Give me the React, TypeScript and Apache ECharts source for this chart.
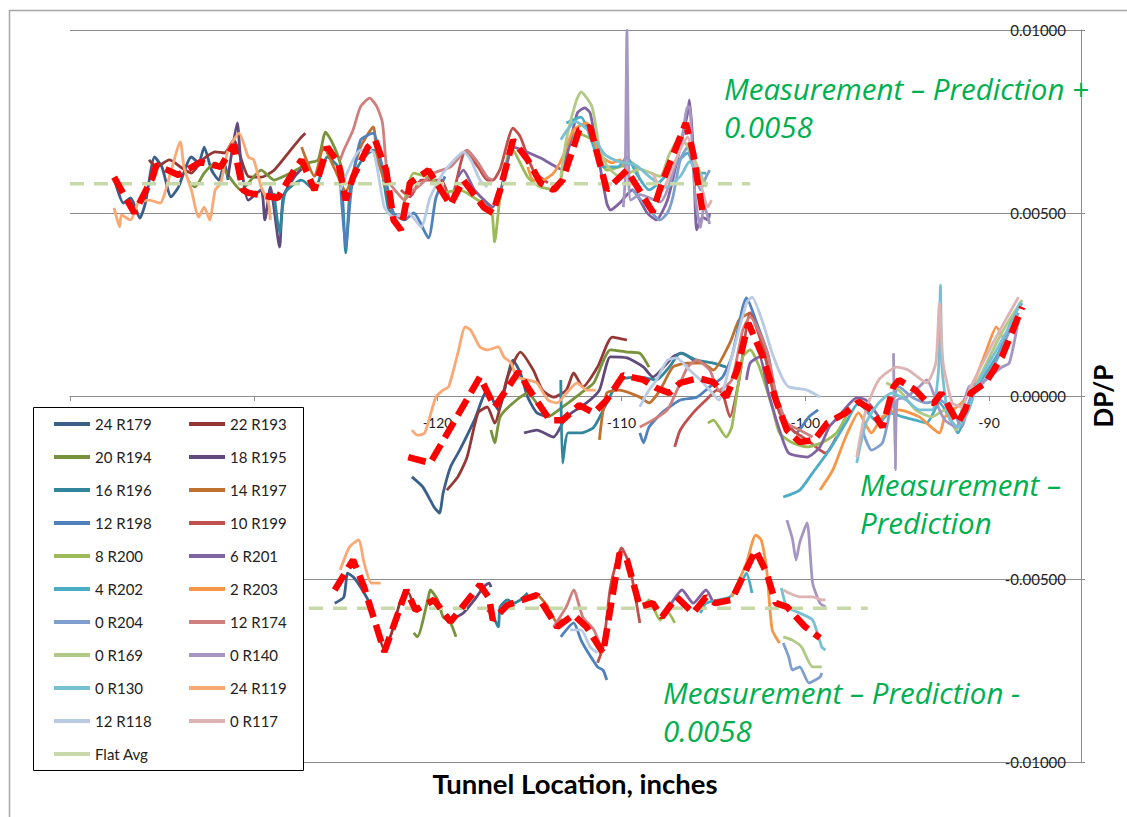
import React, { useEffect, useRef } from "react";
import * as echarts from "echarts";

// Values are DP/P in units of 1e-3, x in tunnel inches.
const SCALE = 0.001;
const FONT = 'Lato, "Open Sans", sans-serif';
const NOTE_FONT = '"Open Sans", Lato, sans-serif';

const xTicks = { min: -140, max: -85, interval: 10 };
const yTicks = { min: -0.01, max: 0.01, interval: 0.005 };
// tick labels left of -125 sit under the legend box
const xLabelFrom = -125;

const r179Top = [[-137.6,5.95],[-137.1,5.27],[-136.7,5.41],[-136.2,4.86],[-135.9,5.27],[-135.4,6.53],[-135.0,6.26],[-134.5,5.44],[-134.1,5.71],[-133.4,6.53],[-133.0,6.37],[-132.7,6.80],[-132.3,6.17],[-131.9,5.90],[-131.6,6.37],[-131.4,5.90]];
const r179Mid = [[-121.4,-2.21],[-120.8,-2.49],[-120.2,-3.03],[-119.9,-3.20],[-119.7,-2.65],[-119.3,-1.94],[-118.8,-1.48],[-118.0,-0.66],[-117.3,0.16],[-116.7,-0.38],[-115.9,0.98],[-115.5,0.63],[-115.1,-0.03],[-114.6,-0.46],[-114.0,-0.57]];
const r179Bot = [[-125.6,-5.66],[-125.1,-5.49],[-124.9,-4.84],[-124.6,-4.94],[-124.2,-5.22],[-123.7,-5.66],[-123.5,-6.04]];

const r193Top = [[-135.7,6.45],[-135.3,6.26],[-134.6,6.45],[-133.9,6.23],[-133.4,6.09],[-132.8,6.45],[-132.1,6.67],[-131.6,6.64],[-131.1,6.99],[-130.3,6.0],[-129.6,5.98],[-128.9,6.17],[-128.0,6.72],[-127.4,7.08],[-127.2,7.18]];
const r193Mid = [[-119.5,-2.57],[-118.9,-2.21],[-118.4,-1.67],[-117.8,-0.46],[-117.3,-0.30],[-116.9,-0.74],[-116.2,0.52],[-115.5,1.20],[-114.8,0.71],[-114.3,0.16],[-113.7,-0.03],[-113.0,0.16],[-112.6,0.63],[-112.1,0.25],[-111.3,0.79],[-110.5,1.61],[-109.7,1.53]];
const r193Bot = [[-123.3,-6.31],[-122.9,-6.94],[-122.5,-6.47],[-122.0,-5.57],[-121.6,-5.38],[-121.3,-5.76]];

const r194Top = [[-133.6,5.90],[-133.2,5.71],[-132.7,6.09],[-132.1,6.37],[-131.6,6.17],[-130.7,5.63],[-129.6,6.17],[-128.9,5.90],[-128.0,6.09],[-127.0,6.37],[-126.5,6.45],[-126.1,7.21],[-125.8,6.99],[-125.4,6.53],[-125.1,5.98]];
const r194Mid = [[-117.1,-0.93],[-116.9,-1.28],[-116.6,-0.57],[-115.9,-0.19],[-115.1,0.08],[-114.0,-0.57],[-113.2,-0.30],[-112.2,0.08],[-111.5,0.36],[-110.6,1.26],[-109.7,1.20],[-109.0,1.17],[-108.5,0.79]];
const r194Bot = [[-121.3,-6.47],[-121.1,-6.58],[-120.5,-5.49],[-120.4,-5.30],[-120.0,-5.57],[-119.7,-6.04],[-119.3,-6.20],[-119.0,-6.58]];

const r195Top = [[-131.4,5.98],[-130.9,7.46],[-130.7,6.37],[-130.3,5.35],[-129.6,5.63],[-129.4,4.81],[-129.1,5.71],[-128.6,4.07],[-128.4,5.44],[-127.8,5.98],[-127.4,6.2]];
const r195Mid = [[-115.3,-1.01],[-114.6,-0.93],[-113.7,-1.12],[-113.0,-0.57],[-111.9,-0.19],[-111.2,0.16],[-110.6,1.07],[-109.7,1.04],[-108.8,0.79],[-108.3,0.52],[-107.2,1.07],[-106.7,1.17],[-105.9,0.90]];
const r195Bot = [[-119.3,-6.12],[-118.6,-5.93],[-118.0,-5.57],[-117.5,-5.22],[-117.2,-5.11],[-117.1,-5.22]];

const r196Top = [[-128.9,5.55],[-128.6,4.45],[-128.3,5.55],[-127.4,5.90],[-126.7,5.63],[-126.0,6.53],[-125.3,6.17],[-125.0,3.91],[-124.7,5.90],[-124.0,6.53],[-123.5,6.72],[-123.1,6.37],[-122.7,5.16],[-122.4,4.89]];
const r196Mid = [[-113.3,0.44],[-113.2,-1.83],[-112.9,-1.01],[-112.2,-1.01],[-111.5,-0.85],[-110.8,-0.19],[-110.1,0.44],[-109.0,0.52],[-108.1,0.44],[-107.4,0.79],[-106.8,1.17],[-105.9,0.98],[-105.0,0.90],[-104.3,0.79]];
const r196Bot = [[-117.3,-5.85],[-117.0,-6.0],[-116.7,-6.31],[-116.6,-5.76],[-116.2,-5.57],[-115.9,-5.66],[-115.5,-5.57],[-115.1,-5.38]];

const r197Top = [[-127.4,6.80],[-126.7,6.0],[-126.2,6.80],[-125.6,6.2],[-125.0,5.6],[-124.2,6.80],[-123.5,7.35],[-123.3,6.53],[-122.8,5.71],[-122.4,4.89]];
const r197Mid = [[-111.2,-1.20],[-110.8,0.08],[-110.1,0.16],[-109.0,-0.03],[-108.5,-0.19],[-107.9,0.16],[-107.2,0.79],[-106.4,0.90],[-105.6,0.90],[-105.0,0.71],[-104.1,1.45],[-103.6,2.08],[-103.0,2.27],[-102.3,1.3],[-101.7,0.0]];
const r197Bot = [[-115.1,-5.49],[-114.6,-5.44],[-114.0,-5.76],[-113.5,-6.20],[-113.2,-6.10]];

const r198Top = [[-125.3,5.90],[-125.0,4.07],[-124.7,5.63],[-124.2,6.99],[-123.5,7.18],[-123.1,6.45],[-122.7,5.63],[-122.4,5.0],[-121.8,4.81],[-121.3,5.0],[-120.5,4.32],[-120.1,5.4],[-119.6,6.0]];
const r198Mid = [[-109.0,-1.01],[-108.8,-1.28],[-108.5,-0.85],[-107.8,-0.46],[-106.8,-0.11],[-105.9,-0.03],[-105.2,0.25],[-104.5,0.52],[-104.0,1.07],[-103.4,2.43],[-103.2,2.68],[-102.7,2.08],[-102.0,1.07],[-101.6,-0.03],[-101.0,-0.74],[-100.5,-1.01],[-99.8,-0.57],[-99.3,-0.38]];
const r198Bot = [[-113.3,-6.58],[-112.6,-6.20],[-112.2,-6.67],[-111.9,-6.94],[-111.3,-7.40],[-111.0,-7.49],[-110.8,-7.76]];

const r199Top = [[-122.0,5.63],[-121.5,5.44],[-120.9,5.90],[-119.8,5.90],[-119.3,5.35],[-118.5,6.67],[-117.8,6.26],[-117.3,5.90],[-117.0,5.90],[-116.6,6.2],[-115.9,7.32],[-115.5,7.08],[-114.8,6.17],[-114.0,5.82]];
const r199Mid = [[-107.1,-1.39],[-106.8,-0.93],[-106.1,-0.46],[-105.4,-0.11],[-104.8,0.16],[-104.5,0.08],[-104.1,-0.57],[-103.6,0.44],[-103.0,2.27],[-102.3,1.34],[-101.8,0.25],[-101.4,-0.46],[-100.7,-0.93],[-99.9,-1.20],[-98.9,-1.56],[-98.3,-1.12]];
const r199Bot = [[-111.3,-7.29],[-111.0,-6.86],[-110.6,-5.22],[-110.2,-4.40],[-110.0,-4.15],[-109.6,-4.56],[-109.4,-5.03],[-109.0,-6.20]];

const r200Top = [[-122.0,4.81],[-121.3,6.09],[-120.2,5.90],[-119.7,5.55],[-118.8,5.63],[-117.8,5.35],[-117.1,5.16],[-116.9,4.21],[-116.6,5.44],[-116.0,6.80],[-115.1,5.98],[-114.4,5.71],[-113.5,5.63],[-113.1,6.45],[-112.5,7.2],[-111.6,7.0],[-111.2,6.5],[-110.8,6.17],[-110.1,6.26],[-109.4,6.37],[-109.0,5.90]];
const r200Mid = [[-105.3,-0.74],[-105.0,-0.66],[-104.3,-1.12],[-104.0,-0.85],[-103.4,1.07],[-103.0,1.26],[-102.5,0.79],[-101.8,-0.30],[-101.4,-1.01],[-100.7,-1.28],[-99.9,-1.39],[-99.1,-1.28],[-98.3,-1.01],[-97.6,-0.38]];
const r200Bot = [[-108.8,-5.76],[-108.5,-5.57],[-107.9,-6.12],[-107.5,-5.90],[-107.1,-6.20]];

const r201Top = [[-118.9,5.98],[-118.6,6.17],[-118.0,5.63],[-117.3,5.27],[-117.0,5.16],[-116.4,5.90],[-115.9,6.80],[-114.4,6.5],[-113.3,6.2],[-112.4,7.73],[-112.0,7.87],[-111.7,7.73],[-111.2,6.37],[-110.8,5.27],[-110.6,5.08],[-110.1,5.27],[-109.4,5.63],[-108.6,5.0],[-108.1,4.81],[-107.5,5.35],[-107.0,6.37],[-106.4,7.73],[-106.3,8.09],[-106.1,6.80],[-105.9,4.54],[-105.6,4.89],[-105.3,4.81],[-105.2,5.0]];
const r201Mid = [[-103.2,0.44],[-103.0,0.90],[-102.5,1.07],[-102.0,0.08],[-101.4,-0.93],[-100.9,-1.56],[-99.9,-1.67],[-99.2,-1.39],[-98.7,-0.85],[-98.2,-0.57],[-97.2,-0.05],[-96.7,-0.11],[-96.0,-0.57]];
const r201Bot = [[-107.4,-5.76],[-106.7,-5.30],[-106.1,-5.66],[-105.4,-5.30],[-105.0,-5.66]];

const r202Top = [[-113.0,7.46],[-112.2,7.62],[-111.7,7.08],[-111.0,6.26],[-110.2,6.26],[-109.7,6.53],[-109.2,6.09],[-108.5,5.63],[-107.8,5.90],[-107.0,6.37],[-106.4,6.64],[-105.9,6.09],[-105.4,6.09]];
const r202Mid = [[-101.2,-2.76],[-100.3,-2.57],[-99.6,-2.10],[-98.7,-1.48],[-97.8,-0.74],[-97.1,-0.19],[-96.4,-0.57],[-96.0,-0.74],[-95.4,-0.46],[-94.7,-0.57],[-94.0,-0.66],[-93.4,-0.74],[-92.7,-0.19],[-92.0,-0.74],[-91.7,-1.01],[-91.1,-0.19],[-90.4,0.44],[-89.5,1.17],[-88.6,2.27],[-88.2,2.54]];
const r202Bot = [[-105.7,-5.93],[-105.4,-5.66],[-104.7,-5.57],[-104.1,-5.49],[-103.6,-5.22],[-103.2,-4.84],[-102.9,-5.38]];

const r203Top = [[-115.1,6.26],[-114.8,5.90],[-114.3,5.90],[-113.7,6.09],[-113.2,6.53],[-112.6,7.27],[-111.9,7.46],[-111.2,6.6],[-110.5,6.37],[-110.1,6.45],[-109.5,5.90]];
const r203Mid = [[-99.2,-2.57],[-98.5,-2.02],[-97.8,-1.12],[-97.1,-0.46],[-96.4,-1.01],[-95.8,-0.57],[-94.9,-0.38],[-93.8,-0.57],[-92.7,-1.01],[-92.4,-0.57],[-91.5,-0.19],[-91.0,0.16],[-90.2,1.17],[-89.6,1.89],[-89.3,1.61]];
const r203Bot = [[-104.0,-5.49],[-103.2,-4.56],[-102.7,-3.80],[-102.4,-3.93],[-102.1,-4.75],[-101.8,-6.39],[-101.4,-6.75]];

const r204Top = [[-109.4,5.63],[-108.6,5.16],[-107.9,4.81],[-107.5,5.0],[-107.2,5.44],[-106.8,6.45],[-106.4,6.80],[-106.1,6.26],[-105.7,5.63],[-105.4,5.98],[-105.2,6.17]];
const r204Mid = [[-96.9,-0.93],[-96.4,-1.48],[-95.8,-1.28],[-95.4,-0.46],[-94.9,0.25],[-94.2,-0.03],[-93.4,-0.19],[-92.7,-0.11],[-92.0,-0.38],[-91.5,-0.85],[-91.0,-0.03],[-90.2,0.44],[-89.5,1.07],[-88.8,1.89],[-88.4,2.27]];
const r204Bot = [[-101.2,-6.75],[-100.9,-7.13],[-100.7,-7.49],[-100.3,-7.40],[-99.8,-7.84],[-99.2,-7.68],[-99.1,-7.57]];

const r174Top = [[-125.3,6.45],[-125.1,6.72],[-124.6,7.27],[-124.2,7.90],[-123.7,8.14],[-123.3,7.90],[-123.0,7.46],[-122.7,5.90],[-122.2,5.55],[-121.8,5.35],[-121.5,5.55],[-121.1,5.7],[-120.2,6.09],[-119.3,6.26],[-118.4,6.72],[-117.8,6.37],[-117.3,5.98],[-117.0,5.90]];
const r174Mid = [[-109.0,-0.85],[-108.3,-0.66],[-107.5,-0.38],[-106.8,0.36],[-106.4,0.79],[-105.9,0.98],[-105.2,0.71],[-104.7,0.16],[-104.0,0.44],[-103.4,1.80],[-103.0,2.16],[-102.1,1.26],[-101.6,0.08],[-101.0,-0.74],[-100.3,-0.93],[-99.6,-1.12]];
const r174Bot = [[-113.7,-6.31],[-113.0,-5.76],[-112.6,-5.30],[-112.1,-6.04],[-111.5,-6.39],[-111.0,-7.02]];

const r169Top = [[-113.3,6.0],[-113.0,7.0],[-112.5,8.0],[-112.2,8.31],[-111.6,7.90],[-111.2,6.80],[-110.8,6.3],[-110.1,6.0],[-109.0,6.2],[-107.9,6.0],[-107.4,6.6],[-106.8,7.08],[-106.1,6.53],[-105.4,5.71]];
const r169Mid = [[-95.6,0.36],[-94.9,0.16],[-94.0,-0.38],[-93.1,-0.57],[-92.4,-0.38],[-91.8,-0.93],[-91.3,-0.03],[-90.6,0.44],[-89.6,1.45],[-88.9,2.08],[-88.2,2.62]];
const r169Bot = [[-101.2,-6.58],[-100.7,-6.67],[-100.2,-6.86],[-99.6,-7.40],[-99.1,-7.40]];

const r140Top = [[-109.9,5.16],[-109.8,5.90],[-109.7,10.0],[-109.6,5.90],[-109.5,5.35],[-109.0,5.5],[-107.9,5.3],[-106.8,6.8],[-106.4,7.9],[-106.3,7.9],[-106.0,5.5],[-105.7,4.6],[-105.5,5.2],[-105.2,4.7]];
const r140Mid = [[-95.2,1.17],[-95.1,-2.02],[-95.0,-0.11],[-94.5,-0.03],[-93.8,0.25],[-93.4,0.44],[-92.7,-0.38],[-92.4,-0.66],[-91.8,-0.85],[-91.1,0.25],[-90.4,0.36],[-89.3,0.79],[-88.9,0.90],[-88.4,2.08]];
const r140Bot = [[-101.0,-3.39],[-100.7,-3.9],[-100.5,-4.48],[-100.3,-4.0],[-99.9,-3.47],[-99.6,-5.11],[-99.2,-5.66],[-98.9,-5.76]];

const r130Top = [[-113.3,7.0],[-112.5,7.5],[-111.7,7.2],[-110.9,6.6],[-110.1,6.4],[-109.2,6.3],[-108.5,6.0],[-107.6,5.7],[-106.8,6.0],[-106.3,6.4],[-105.7,6.0]];
const r130Mid = [[-97.2,-1.83],[-96.7,-0.74],[-96.0,-0.19],[-95.3,0.08],[-94.5,-0.11],[-93.8,-0.38],[-93.1,-0.38],[-92.75,0.71],[-92.65,3.03],[-92.55,0.71],[-92.2,-0.57],[-91.7,-0.85],[-91.1,-0.38],[-90.6,0.36],[-89.6,1.26],[-88.8,1.99],[-88.3,2.57]];
const r130Bot = [[-101.3,-5.25],[-101.0,-5.76],[-100.3,-5.93],[-99.6,-6.12],[-99.1,-6.86],[-98.9,-6.94]];

const r119Top = [[-137.6,5.14],[-137.3,4.62],[-137.2,4.94],[-136.7,4.81],[-136.3,5.27],[-135.7,5.35],[-135.1,5.27],[-134.6,5.98],[-134.0,6.94],[-133.8,6.26],[-133.4,5.63],[-133.0,4.89],[-132.7,5.16],[-132.4,4.81],[-132.1,5.63],[-131.8,5.82],[-131.4,6.72],[-130.8,7.18],[-130.3,6.53],[-130.0,6.45],[-129.6,5.71],[-129.2,5.27],[-129.1,4.81]];
const r119Mid = [[-121.4,-0.93],[-121.1,-1.07],[-120.7,-1.01],[-120.1,-0.03],[-119.7,0.16],[-119.4,0.25],[-118.9,1.17],[-118.5,1.89],[-118.2,1.80],[-117.7,1.34],[-117.3,1.26],[-116.7,1.34],[-116.4,1.07],[-116.0,0.90],[-115.7,0.52],[-115.1,0.44],[-114.6,0.36],[-114.0,-0.11],[-113.5,-0.19],[-113.0,0.08],[-112.4,0.36],[-111.9,0.16],[-111.4,0.16]];
const r119Bot = [[-125.3,-4.75],[-124.8,-4.13],[-124.3,-3.93],[-124.0,-4.56],[-123.6,-5.11],[-123.1,-5.11]];

const r118Top = [[-125.3,5.63],[-124.2,6.72],[-123.5,6.67],[-122.9,5.16],[-122.4,4.89],[-121.6,5.0],[-120.9,4.62],[-120.4,5.44],[-119.7,6.09],[-119.1,6.45],[-118.6,6.67],[-118.2,6.45],[-117.7,5.90],[-117.3,5.71]];
const r118Mid = [[-109.0,-0.30],[-108.6,0.08],[-108.1,0.44],[-107.5,0.98],[-107.0,1.04],[-106.3,0.71],[-105.7,0.44],[-105.2,0.16],[-104.7,-0.11],[-104.0,1.07],[-103.2,2.54],[-102.9,2.70],[-102.3,1.99],[-101.8,1.17],[-101.2,0.44],[-100.9,0.25],[-99.9,0.16],[-99.2,-0.03]];
const r118Bot = [[-112.8,-6.39],[-112.2,-6.39],[-111.7,-6.86],[-111.3,-7.02]];

const r117Top = [[-108.3,6.09],[-107.8,5.63],[-107.0,6.5],[-106.4,7.08],[-106.1,6.53],[-105.6,5.63],[-105.3,5.16],[-105.1,5.35]];
const r117Mid = [[-97.2,-1.67],[-96.7,-0.38],[-96.0,0.44],[-95.0,0.79],[-94.4,0.71],[-93.4,0.36],[-92.9,0.90],[-92.7,2.54],[-92.5,0.90],[-92.0,-0.19],[-91.5,-0.30],[-91.0,0.25],[-89.9,1.34],[-89.1,2.08],[-88.4,2.70]];
const r117Bot = [[-101.2,-5.30],[-100.9,-5.38],[-100.3,-5.49],[-99.6,-5.49],[-99.1,-5.57],[-98.9,-5.57]];

const flatTop = [[-140,5.8],[-103,5.8]];
const flatBot = [[-127,-5.8],[-96.6,-5.8]];

// Running mean of all gauges, one trace per offset band
const meanTop = [[-137.6,5.98],[-136.5,5.0],[-135.5,5.98],[-135.3,6.31],[-134.1,6.04],[-132.9,6.39],[-131.8,6.26],[-131.1,6.86],[-130.6,5.63],[-130.3,5.55],[-128.7,5.41],[-127.8,6.17],[-127.4,6.45],[-126.7,5.63],[-126.0,6.80],[-125.4,6.37],[-125.0,5.35],[-124.6,5.98],[-123.8,6.80],[-123.4,6.99],[-122.8,6.17],[-122.4,4.81],[-122.0,4.54],[-121.5,5.82],[-120.5,6.17],[-119.3,5.22],[-118.6,5.90],[-117.5,5.16],[-117.0,5.0],[-116.6,5.63],[-115.9,6.99],[-115.1,6.45],[-114.4,5.82],[-113.7,5.63],[-113.2,5.90],[-112.3,7.27],[-111.7,7.35],[-110.8,5.63],[-109.7,6.17],[-108.3,5.03],[-107.8,5.82],[-106.5,7.46],[-106.1,6.64],[-105.6,5.08]];
const meanMid = [[-121.6,-1.67],[-120.4,-1.83],[-117.7,0.52],[-116.9,-0.30],[-115.6,0.66],[-115.0,0.16],[-113.9,-0.66],[-113.2,-0.66],[-112.3,-0.25],[-111.5,-0.46],[-110.8,-0.11],[-109.9,0.57],[-108.8,0.44],[-108.1,0.22],[-107.4,0.08],[-106.8,0.36],[-105.8,0.49],[-105.0,0.38],[-104.3,-0.03],[-103.7,0.71],[-103.1,1.99],[-102.3,1.07],[-101.6,-0.11],[-101.0,-0.93],[-100.3,-1.26],[-99.5,-1.20],[-98.8,-0.74],[-97.8,-0.46],[-97.1,-0.16],[-96.4,-0.38],[-95.8,-0.85],[-95.2,0.25],[-94.9,0.44],[-94.0,0.16],[-93.4,-0.16],[-93.0,-0.19],[-92.6,0.08],[-92.0,-0.46],[-91.7,-0.74],[-91.3,-0.38],[-91.0,0.08],[-90.2,0.36],[-89.3,1.07],[-88.2,2.43]];
const meanBot = [[-125.6,-5.30],[-124.6,-4.48],[-124.0,-5.22],[-122.9,-6.99],[-121.7,-5.30],[-121.2,-5.85],[-120.2,-5.57],[-119.3,-6.17],[-117.7,-5.16],[-117.2,-5.52],[-117.0,-6.12],[-116.2,-5.71],[-114.6,-5.44],[-113.5,-6.31],[-112.6,-5.98],[-111.9,-6.31],[-111.0,-7.02],[-110.1,-4.29],[-109.7,-4.48],[-109.0,-5.76],[-108.3,-5.66],[-107.8,-6.04],[-107.0,-5.49],[-106.1,-5.93],[-105.4,-5.49],[-104.9,-5.66],[-104.0,-5.57],[-102.7,-4.21],[-102.1,-4.84],[-101.6,-5.66],[-101.0,-5.76],[-100.0,-6.31],[-99.2,-6.61]];

const gauges = [
  { name: "24 R179", color: "#3A5F8B", parts: [r179Top, r179Mid, r179Bot] },
  { name: "22 R193", color: "#953735", parts: [r193Top, r193Mid, r193Bot] },
  { name: "20 R194", color: "#77933C", parts: [r194Top, r194Mid, r194Bot] },
  { name: "18 R195", color: "#604A7B", parts: [r195Top, r195Mid, r195Bot] },
  { name: "16 R196", color: "#31859C", parts: [r196Top, r196Mid, r196Bot] },
  { name: "14 R197", color: "#C0712F", parts: [r197Top, r197Mid, r197Bot] },
  { name: "12 R198", color: "#4F81BD", parts: [r198Top, r198Mid, r198Bot] },
  { name: "10 R199", color: "#C0504D", parts: [r199Top, r199Mid, r199Bot] },
  { name: "8 R200", color: "#9BBB59", parts: [r200Top, r200Mid, r200Bot] },
  { name: "6 R201", color: "#8064A2", parts: [r201Top, r201Mid, r201Bot] },
  { name: "4 R202", color: "#4BACC6", parts: [r202Top, r202Mid, r202Bot] },
  { name: "2 R203", color: "#F79646", parts: [r203Top, r203Mid, r203Bot] },
  { name: "0 R204", color: "#7F9FCF", parts: [r204Top, r204Mid, r204Bot] },
  { name: "12 R174", color: "#CF7F7E", parts: [r174Top, r174Mid, r174Bot] },
  { name: "0 R169", color: "#B0C985", parts: [r169Top, r169Mid, r169Bot] },
  { name: "0 R140", color: "#A597C2", parts: [r140Top, r140Mid, r140Bot] },
  { name: "0 R130", color: "#78C0D4", parts: [r130Top, r130Mid, r130Bot] },
  { name: "24 R119", color: "#FAA874", parts: [r119Top, r119Mid, r119Bot] },
  { name: "12 R118", color: "#B9CAE3", parts: [r118Top, r118Mid, r118Bot] },
  { name: "0 R117", color: "#DDB4B3", parts: [r117Top, r117Mid, r117Bot] },
];

const legendLeft = ["24 R179", "20 R194", "16 R196", "12 R198", "8 R200", "4 R202", "0 R204", "0 R169", "0 R130", "12 R118", "Flat Avg"];
const legendRight = ["22 R193", "18 R195", "14 R197", "10 R199", "6 R201", "2 R203", "12 R174", "0 R140", "24 R119", "0 R117"];

const toXY = (pts: number[][]) => pts.map(([x, y]) => [x, y * SCALE]);

const AXIS_GRAY = "#8c8c8c";

function buildOption() {
  const series: any[] = [];
  gauges.forEach((g) => {
    g.parts.forEach((part) => {
      series.push({
        type: "line",
        name: g.name,
        data: toXY(part),
        showSymbol: false,
        symbol: "none",
        smooth: 0.2,
        color: g.color,
        lineStyle: { color: g.color, width: 2.8 },
        silent: true,
        z: 2,
      });
    });
  });
  [flatTop, flatBot].forEach((part) => {
    series.push({
      type: "line",
      name: "Flat Avg",
      data: toXY(part),
      showSymbol: false,
      symbol: "none",
      color: "#C7D9A8",
      lineStyle: { color: "#C7D9A8", width: 3.5, type: [14, 10] },
      silent: true,
      z: 2,
    });
  });
  [meanTop, meanMid, meanBot].forEach((part, i) => {
    series.push({
      type: "line",
      name: "mean-" + i,
      data: toXY(part),
      showSymbol: false,
      symbol: "none",
      color: "#FF0000",
      lineStyle: { color: "#FF0000", width: 6.5, type: [18, 8] },
      silent: true,
      z: 2,
    });
  });

  const legendCommon = {
    orient: "vertical",
    top: 416,
    padding: 0,
    itemWidth: 36,
    itemHeight: 4,
    itemGap: 17,
    icon: "rect",
    selectedMode: false,
    textStyle: { fontFamily: FONT, fontSize: 15, color: "#222", lineHeight: 16 },
    z: 6,
  };

  const green = "#00B050";
  const note = (x: number, y: number, text: string, lineHeight: number) => ({
    type: "text",
    x,
    y,
    z: 7,
    style: {
      text,
      fill: green,
      fontSize: 29.5,
      lineHeight,
      fontFamily: NOTE_FONT,
      fontStyle: "italic",
      align: "left",
      verticalAlign: "middle",
    },
  });

  return {
    animation: false,
    backgroundColor: "#ffffff",
    grid: [
      { left: 70, right: 46, top: 30, bottom: 55 },
      // band whose lower edge is the zero line, carrying the tunnel-location scale
      { left: 70, right: 46, top: 30, height: 366 },
    ],
    xAxis: [
      { type: "value", gridIndex: 0, min: xTicks.min, max: xTicks.max, show: false },
      {
        type: "value",
        gridIndex: 1,
        position: "bottom",
        min: xTicks.min,
        max: xTicks.max,
        interval: xTicks.interval,
        axisLine: { show: true, onZero: false, lineStyle: { color: AXIS_GRAY, width: 1 } },
        axisTick: { show: true, length: 5, lineStyle: { color: AXIS_GRAY } },
        axisLabel: {
          color: "#222",
          fontFamily: FONT,
          fontSize: 14,
          margin: 19,
          showMaxLabel: false,
          formatter: (v: number) => (v < xLabelFrom ? "" : String(v)),
        },
        splitLine: { show: false },
      },
    ],
    yAxis: [
      {
        type: "value",
        gridIndex: 0,
        position: "right",
        min: yTicks.min,
        max: yTicks.max,
        interval: yTicks.interval,
        axisLine: { show: true, onZero: false, lineStyle: { color: AXIS_GRAY, width: 1 } },
        axisTick: { show: true, length: 4, lineStyle: { color: AXIS_GRAY } },
        axisLabel: {
          inside: true,
          margin: 15,
          color: "#222",
          fontFamily: FONT,
          fontSize: 15,
          formatter: (v: number) => v.toFixed(5),
        },
        splitLine: { show: true, lineStyle: { color: AXIS_GRAY, width: 1 } },
      },
      { type: "value", gridIndex: 1, min: 0, max: 1, show: false },
    ],
    legend: [
      { ...legendCommon, left: 54, data: legendLeft },
      { ...legendCommon, left: 189, data: legendRight },
    ],
    graphic: [
      {
        type: "polyline",
        shape: { points: [[9.5, 817], [9.5, 10.5], [1127, 10.5]] },
        style: { stroke: "#a6a6a6", lineWidth: 1.5, fill: null },
        silent: true,
        z: 1,
      },
      {
        type: "rect",
        shape: { x: 33.5, y: 407.5, width: 270, height: 363 },
        style: { fill: "#ffffff", stroke: "#000000", lineWidth: 1 },
        silent: true,
        z: 5,
      },
      note(724, 107, "Measurement – Prediction +\n0.0058", 38),
      note(860, 503, "Measurement –\nPrediction", 38),
      note(663, 711, "Measurement – Prediction -\n0.0058", 38),
      {
        type: "text",
        x: 575,
        y: 783,
        style: {
          text: "Tunnel Location, inches",
          fill: "#000",
          fontSize: 27.5,
          fontWeight: "bold",
          fontFamily: FONT,
          align: "center",
          verticalAlign: "middle",
        },
        z: 7,
      },
      {
        type: "text",
        x: 1103,
        y: 396,
        rotation: Math.PI / 2,
        style: {
          text: "DP/P",
          fill: "#000",
          fontSize: 26,
          fontWeight: "bold",
          fontFamily: FONT,
          align: "center",
          verticalAlign: "middle",
        },
        z: 7,
      },
    ],
    series,
  };
}

export default function App() {
  const ref = useRef<HTMLDivElement>(null);
  useEffect(() => {
    if (!ref.current) return;
    const chart = echarts.init(ref.current, undefined, { renderer: "svg" });
    chart.setOption(buildOption() as any);
    return () => chart.dispose();
  }, []);
  return (
    <div
      ref={ref}
      style={{ position: "fixed", left: 0, top: 0, width: 1127, height: 817, background: "#fff" }}
    />
  );
}
